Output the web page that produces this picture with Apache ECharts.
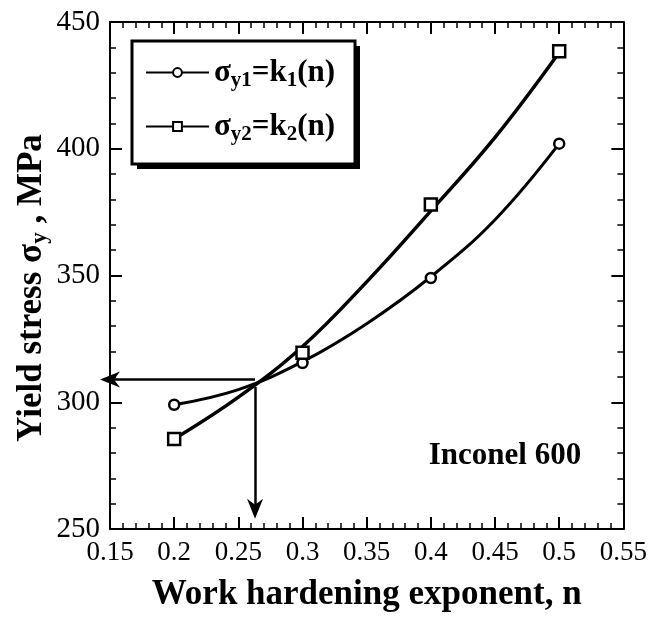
<!DOCTYPE html>
<html>
<head>
<meta charset="utf-8">
<script src="https://cdn.jsdelivr.net/npm/echarts@6/dist/echarts.min.js"></script>
<style>
  html, body { margin: 0; padding: 0; background: #fff; }
  #chart { width: 650px; height: 617px; }
</style>
</head>
<body>
<div id="chart"></div>
<script>
// Axis tick labels
const xTickLabels = ['0.15', '0.2', '0.25', '0.3', '0.35', '0.4', '0.45', '0.5', '0.55'];
const yTickLabels = ['250', '300', '350', '400', '450'];

// Fitted curves sigma_y1 = k1(n), sigma_y2 = k2(n)
const nFit = [0.2, 0.25, 0.3, 0.35, 0.4, 0.45, 0.5];
const fitK1 = [299, 305, 316, 331, 349.5, 372, 402];
const fitK2 = [285.5, 302, 322, 347.5, 375.5, 404.5, 438];

// Measured points
const nMeasured = [0.2, 0.3, 0.4, 0.5];
const sigmaY1 = [299, 315.5, 349, 402];
const sigmaY2 = [285.5, 319.5, 378, 438.5];

// Read-off at the crossing point
const nCross = 0.263;
const sigmaCross = 309;
const sigmaArrowStart = 306;
const sigmaArrowEnd = 258;

const SERIF = '"Liberation Serif", "Times New Roman", serif';
const pairs = (xs, ys) => xs.map((x, i) => [x, ys[i]]);
const arrowHead = 'path://M5,0 L10,20 L5,14 L0,20 Z';

const chart = echarts.init(document.getElementById('chart'), null, { renderer: 'canvas' });

const axisCommon = {
  type: 'value',
  axisLine: { show: true, onZero: false, lineStyle: { color: '#000', width: 2 } },
  axisTick: { show: true, inside: true, length: 12, lineStyle: { color: '#000', width: 2 } },
  minorTick: { show: true, splitNumber: 5, length: 6, lineStyle: { color: '#000', width: 1.5 } },
  splitLine: { show: false },
  minorSplitLine: { show: false }
};

const option = {
  animation: false,
  backgroundColor: '#fff',
  grid: { left: 110, right: 26, top: 22, bottom: 84 },
  xAxis: [
    Object.assign({}, axisCommon, {
      position: 'bottom', min: 0.15, max: 0.55, interval: 0.05,
      axisLabel: {
        margin: 10, color: '#000', fontFamily: SERIF, fontSize: 27,
        formatter: (v, i) => xTickLabels[i]
      },
      name: 'Work hardening exponent, n',
      nameLocation: 'middle', nameGap: 48,
      nameTextStyle: { color: '#000', fontFamily: SERIF, fontSize: 35, fontWeight: 'bold' }
    }),
    Object.assign({}, axisCommon, {
      position: 'top', min: 0.15, max: 0.55, interval: 0.05,
      axisLabel: { show: false }
    })
  ],
  yAxis: [
    Object.assign({}, axisCommon, {
      position: 'left', min: 250, max: 450, interval: 50,
      axisLabel: {
        margin: 10, color: '#000', fontFamily: SERIF, fontSize: 29,
        formatter: (v, i) => yTickLabels[i]
      }
    }),
    Object.assign({}, axisCommon, {
      position: 'right', min: 250, max: 450, interval: 50,
      axisLabel: { show: false }
    })
  ],
  legend: {
    orient: 'vertical',
    left: 145, top: 54,
    padding: 0,
    itemGap: 17,
    itemWidth: 63, itemHeight: 11,
    data: ['k1', 'k2'],
    formatter: name => name === 'k1'
      ? '{g|σ}{s|y1}{g|=k}{s|1}{g|(n)}'
      : '{g|σ}{s|y2}{g|=k}{s|2}{g|(n)}',
    textStyle: {
      color: '#000', fontFamily: SERIF, fontSize: 31, fontWeight: 'bold',
      rich: {
        g: { fontFamily: SERIF, fontSize: 31, fontWeight: 'bold', color: '#000', lineHeight: 36 },
        s: { fontFamily: SERIF, fontSize: 21, fontWeight: 'bold', color: '#000', lineHeight: 20, padding: [16, 0, 0, 0] }
      }
    },
    z: 10
  },
  graphic: [
    // legend frame with its drop shadow
    {
      type: 'rect', z: 5,
      shape: { x: 137, y: 46, width: 223, height: 123 },
      style: { fill: '#000' }
    },
    {
      type: 'rect', z: 6,
      shape: { x: 132, y: 41, width: 223, height: 123 },
      style: { fill: '#fff', stroke: '#000', lineWidth: 3 }
    },
    {
      type: 'text', x: 32, y: 288, rotation: Math.PI / 2, z: 6,
      style: {
        text: '{t|Yield stress σ}{s|y}{t| , MPa}',
        align: 'center', verticalAlign: 'middle',
        rich: {
          t: { fontFamily: SERIF, fontSize: 35, fontWeight: 'bold', fill: '#000' },
          s: { fontFamily: SERIF, fontSize: 23, fontWeight: 'bold', fill: '#000', padding: [16, 0, 0, 0] }
        }
      }
    },
    {
      type: 'text', x: 505, y: 456, z: 6,
      style: {
        text: 'Inconel 600', fill: '#000',
        font: 'bold 31px ' + SERIF, align: 'center', verticalAlign: 'middle'
      }
    }
  ],
  series: [
    {
      name: 'k1', type: 'line', smooth: 0.4,
      data: pairs(nFit, fitK1),
      showSymbol: false, symbol: 'circle', symbolSize: 9,
      itemStyle: { color: '#fff', borderColor: '#000', borderWidth: 2 },
      lineStyle: { color: '#000', width: 3 },
      z: 3
    },
    {
      name: 'k2', type: 'line', smooth: 0.4,
      data: pairs(nFit, fitK2),
      showSymbol: false, symbol: 'rect', symbolSize: 10,
      itemStyle: { color: '#fff', borderColor: '#000', borderWidth: 2.5 },
      lineStyle: { color: '#000', width: 3.5 },
      z: 3
    },
    {
      name: 'k1 measured', type: 'scatter',
      data: pairs(nMeasured, sigmaY1),
      symbol: 'circle', symbolSize: 10,
      itemStyle: { color: '#fff', borderColor: '#000', borderWidth: 2.5, opacity: 1 },
      z: 4
    },
    {
      name: 'k2 measured', type: 'scatter',
      data: pairs(nMeasured, sigmaY2),
      symbol: 'rect', symbolSize: 12,
      itemStyle: { color: '#fff', borderColor: '#000', borderWidth: 2.5, opacity: 1 },
      z: 4,
      markLine: {
        silent: true,
        symbol: ['none', arrowHead],
        symbolSize: [16, 20],
        label: { show: false },
        lineStyle: { color: '#000', width: 2.5, type: 'solid' },
        itemStyle: { color: '#000' },
        data: [
          [{ coord: [nCross, sigmaCross] }, { coord: [0.15, sigmaCross] }],
          [{ coord: [nCross, sigmaArrowStart] }, { coord: [nCross, sigmaArrowEnd] }]
        ]
      }
    }
  ]
};

chart.setOption(option);
</script>
</body>
</html>
